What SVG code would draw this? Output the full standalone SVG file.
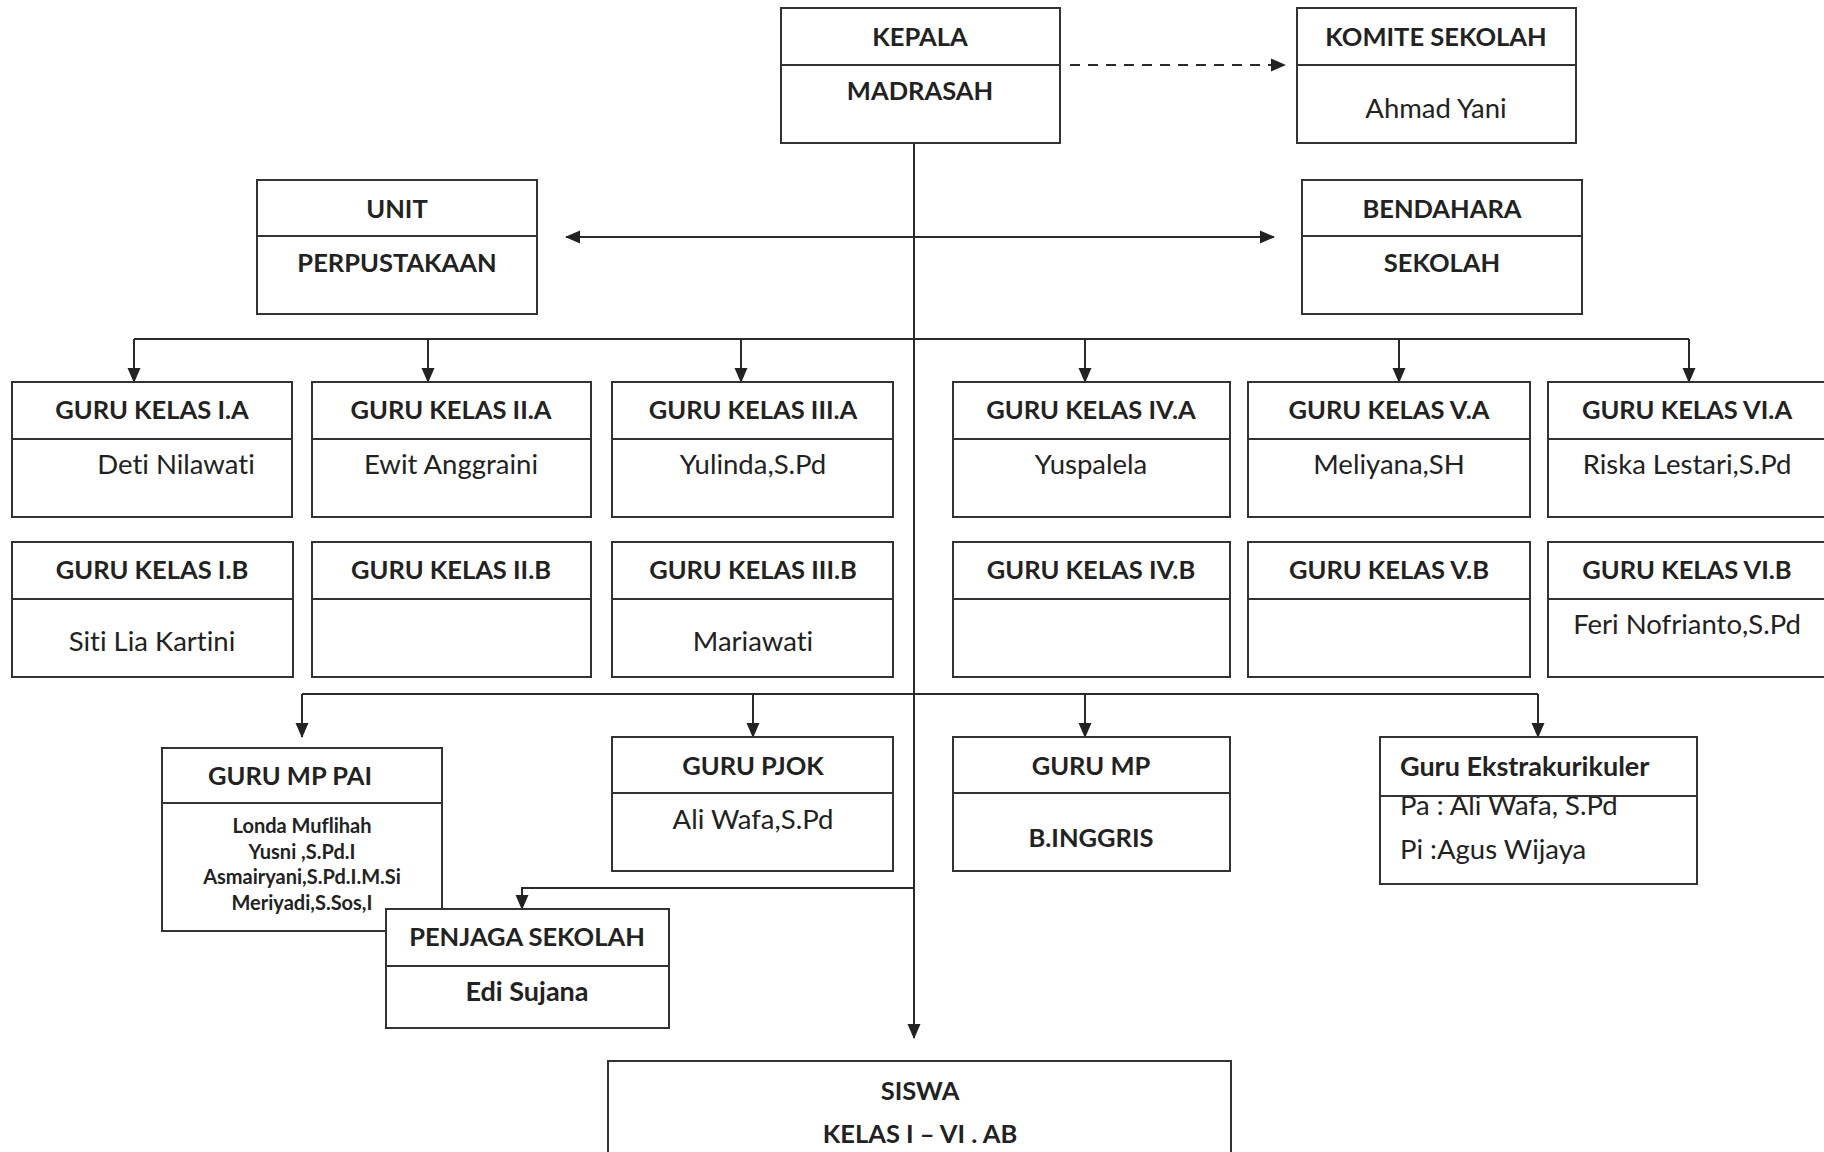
<svg xmlns="http://www.w3.org/2000/svg" width="1824" height="1152" viewBox="0 0 1824 1152">
<defs>
<marker id="ah" markerUnits="userSpaceOnUse" markerWidth="15" markerHeight="16" viewBox="0 0 15 16" refX="14" refY="8" orient="auto-start-reverse">
<path d="M0,1.5 L15,8 L0,14.5 Z" fill="#222"/>
</marker>
</defs>
<style>
text{font-variant-ligatures:none;font-feature-settings:"liga" 0}
.box{fill:#fff;stroke:#333;stroke-width:2}
.div{stroke:#333;stroke-width:2}
.con{fill:none;stroke:#2a2a2a;stroke-width:2}
.t{font-family:Lato,"Open Sans",sans-serif;font-weight:bold;font-size:25.5px;fill:#222;text-anchor:middle}
.tm{font-family:Lato,"Open Sans",sans-serif;font-weight:bold;font-size:27px;fill:#222;text-anchor:middle}
.n{font-family:Lato,"Open Sans",sans-serif;font-size:27.5px;fill:#222;text-anchor:middle}
.s{font-family:Lato,"Open Sans",sans-serif;font-weight:bold;font-size:20px;fill:#222;text-anchor:middle}
.l{text-anchor:start}
</style>
<rect width="1824" height="1152" fill="#fff"/>

<g id="connectors">
<line class="con" x1="1070" y1="65" x2="1285" y2="65" stroke-dasharray="10,8" marker-end="url(#ah)"/>
<line class="con" x1="914" y1="143" x2="914" y2="1038" marker-end="url(#ah)"/>
<line class="con" x1="566" y1="237" x2="1274" y2="237" marker-start="url(#ah)" marker-end="url(#ah)"/>
<line class="con" x1="134" y1="339" x2="1689" y2="339"/>
<line class="con" x1="134" y1="339" x2="134" y2="382" marker-end="url(#ah)"/>
<line class="con" x1="428" y1="339" x2="428" y2="382" marker-end="url(#ah)"/>
<line class="con" x1="741" y1="339" x2="741" y2="382" marker-end="url(#ah)"/>
<line class="con" x1="1085" y1="339" x2="1085" y2="382" marker-end="url(#ah)"/>
<line class="con" x1="1399" y1="339" x2="1399" y2="382" marker-end="url(#ah)"/>
<line class="con" x1="1689" y1="339" x2="1689" y2="382" marker-end="url(#ah)"/>
<line class="con" x1="302" y1="694" x2="1538" y2="694"/>
<line class="con" x1="302" y1="694" x2="302" y2="737" marker-end="url(#ah)"/>
<line class="con" x1="753" y1="694" x2="753" y2="737" marker-end="url(#ah)"/>
<line class="con" x1="1085" y1="694" x2="1085" y2="737" marker-end="url(#ah)"/>
<line class="con" x1="1538" y1="694" x2="1538" y2="737" marker-end="url(#ah)"/>
<polyline class="con" points="914,888 522,888 522,909" marker-end="url(#ah)"/>
</g>

<g id="kepala">
<rect class="box" x="781" y="8" width="279" height="135"/>
<line class="div" x1="781" y1="65" x2="1060" y2="65"/>
<text class="t" x="920" y="46">KEPALA</text>
<text class="t" x="920" y="100">MADRASAH</text>
</g>
<g id="komite">
<rect class="box" x="1297" y="8" width="279" height="135"/>
<line class="div" x1="1297" y1="65" x2="1576" y2="65"/>
<text class="t" x="1436" y="46">KOMITE SEKOLAH</text>
<text class="n" x="1436" y="118">Ahmad Yani</text>
</g>
<g id="unit">
<rect class="box" x="257" y="180" width="280" height="134"/>
<line class="div" x1="257" y1="236" x2="537" y2="236"/>
<text class="t" x="397" y="218">UNIT</text>
<text class="t" x="397" y="272">PERPUSTAKAAN</text>
</g>
<g id="bendahara">
<rect class="box" x="1302" y="180" width="280" height="134"/>
<line class="div" x1="1302" y1="236" x2="1582" y2="236"/>
<text class="t" x="1442" y="218">BENDAHARA</text>
<text class="t" x="1442" y="272">SEKOLAH</text>
</g>

<g id="guru-1a">
<rect class="box" x="12" y="382" width="280" height="135"/>
<line class="div" x1="12" y1="439" x2="292" y2="439"/>
<text class="t" x="152" y="419">GURU KELAS I.A</text>
<text class="n" x="176" y="474">Deti Nilawati</text>
</g>
<g id="guru-2a">
<rect class="box" x="312" y="382" width="279" height="135"/>
<line class="div" x1="312" y1="439" x2="591" y2="439"/>
<text class="t" x="451" y="419">GURU KELAS II.A</text>
<text class="n" x="451" y="474">Ewit Anggraini</text>
</g>
<g id="guru-3a">
<rect class="box" x="612" y="382" width="281" height="135"/>
<line class="div" x1="612" y1="439" x2="893" y2="439"/>
<text class="t" x="753" y="419">GURU KELAS III.A</text>
<text class="n" x="753" y="474">Yulinda,S.Pd</text>
</g>
<g id="guru-4a">
<rect class="box" x="953" y="382" width="277" height="135"/>
<line class="div" x1="953" y1="439" x2="1230" y2="439"/>
<text class="t" x="1091" y="419">GURU KELAS IV.A</text>
<text class="n" x="1091" y="474">Yuspalela</text>
</g>
<g id="guru-5a">
<rect class="box" x="1248" y="382" width="282" height="135"/>
<line class="div" x1="1248" y1="439" x2="1530" y2="439"/>
<text class="t" x="1389" y="419">GURU KELAS V.A</text>
<text class="n" x="1389" y="474">Meliyana,SH</text>
</g>
<g id="guru-6a">
<rect class="box" x="1548" y="382" width="282" height="135"/>
<line class="div" x1="1548" y1="439" x2="1830" y2="439"/>
<text class="t" x="1687" y="419">GURU KELAS VI.A</text>
<text class="n" x="1687" y="474">Riska Lestari,S.Pd</text>
</g>

<g id="guru-1b">
<rect class="box" x="12" y="542" width="281" height="135"/>
<line class="div" x1="12" y1="599" x2="293" y2="599"/>
<text class="t" x="152" y="579">GURU KELAS I.B</text>
<text class="n" x="152" y="651">Siti Lia Kartini</text>
</g>
<g id="guru-2b">
<rect class="box" x="312" y="542" width="279" height="135"/>
<line class="div" x1="312" y1="599" x2="591" y2="599"/>
<text class="t" x="451" y="579">GURU KELAS II.B</text>
</g>
<g id="guru-3b">
<rect class="box" x="612" y="542" width="281" height="135"/>
<line class="div" x1="612" y1="599" x2="893" y2="599"/>
<text class="t" x="753" y="579">GURU KELAS III.B</text>
<text class="n" x="753" y="651">Mariawati</text>
</g>
<g id="guru-4b">
<rect class="box" x="953" y="542" width="277" height="135"/>
<line class="div" x1="953" y1="599" x2="1230" y2="599"/>
<text class="t" x="1091" y="579">GURU KELAS IV.B</text>
</g>
<g id="guru-5b">
<rect class="box" x="1248" y="542" width="282" height="135"/>
<line class="div" x1="1248" y1="599" x2="1530" y2="599"/>
<text class="t" x="1389" y="579">GURU KELAS V.B</text>
</g>
<g id="guru-6b">
<rect class="box" x="1548" y="542" width="282" height="135"/>
<line class="div" x1="1548" y1="599" x2="1830" y2="599"/>
<text class="t" x="1687" y="579">GURU KELAS VI.B</text>
<text class="n" x="1687" y="634">Feri Nofrianto,S.Pd</text>
</g>

<g id="guru-mp-pai">
<rect class="box" x="162" y="748" width="280" height="183"/>
<line class="div" x1="162" y1="803" x2="442" y2="803"/>
<text class="t" x="290" y="785">GURU MP PAI</text>
<text class="s" x="302" y="833">Londa Muflihah</text>
<text class="s" x="302" y="859">Yusni ,S.Pd.I</text>
<text class="s" x="302" y="884">Asmairyani,S.Pd.I.M.Si</text>
<text class="s" x="302" y="910">Meriyadi,S.Sos,I</text>
</g>
<g id="penjaga">
<rect class="box" x="386" y="909" width="283" height="119"/>
<line class="div" x1="386" y1="966" x2="669" y2="966"/>
<text class="t" x="527" y="946">PENJAGA SEKOLAH</text>
<text class="tm" x="527" y="1001">Edi Sujana</text>
</g>
<g id="guru-pjok">
<rect class="box" x="612" y="737" width="281" height="134"/>
<line class="div" x1="612" y1="793" x2="893" y2="793"/>
<text class="t" x="753" y="775">GURU PJOK</text>
<text class="n" x="753" y="829">Ali Wafa,S.Pd</text>
</g>
<g id="guru-mp">
<rect class="box" x="953" y="737" width="277" height="134"/>
<line class="div" x1="953" y1="793" x2="1230" y2="793"/>
<text class="t" x="1091" y="775">GURU MP</text>
<text class="t" x="1091" y="847">B.INGGRIS</text>
</g>
<g id="guru-ekstra">
<rect class="box" x="1380" y="737" width="317" height="147"/>
<text class="n l" x="1400" y="815">Pa : Ali Wafa, S.Pd</text>
<rect x="1381" y="738" width="315" height="57" fill="#fff"/>
<line class="div" x1="1380" y1="796" x2="1697" y2="796"/>
<text class="tm l" x="1400" y="776">Guru Ekstrakurikuler</text>
<text class="n l" x="1400" y="859">Pi :Agus Wijaya</text>
</g>
<g id="siswa">
<rect class="box" x="608" y="1061" width="623" height="110"/>
<text class="t" x="920" y="1100">SISWA</text>
<text class="t" x="920" y="1143">KELAS I – VI . AB</text>
</g>
</svg>
